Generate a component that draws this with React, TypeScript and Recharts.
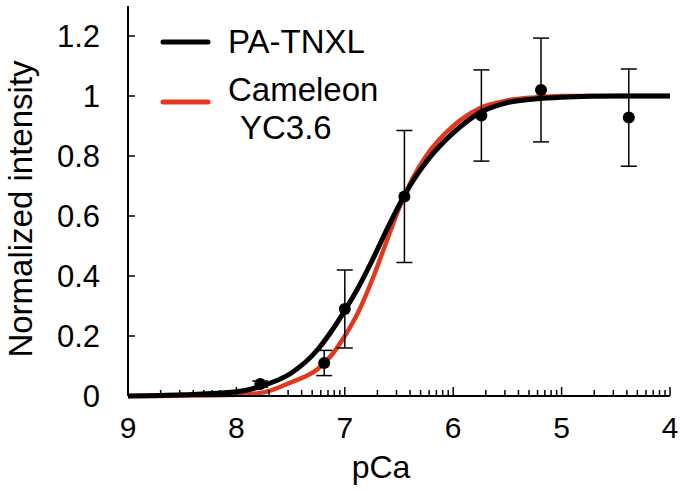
import { ComposedChart, Line, Scatter, ErrorBar, XAxis, YAxis, Legend, Label } from 'recharts'

// fitted curves
const curvePCa = [9, 8.5, 8, 7.75, 7.5, 7.25, 7.125, 7, 6.875, 6.75, 6.625, 6.5, 6.375, 6.25, 6, 5.75, 5.5, 5.25, 5, 4.5, 4]
const tnxlCurve = [0, 0.004, 0.014, 0.035, 0.075, 0.155, 0.215, 0.285, 0.362, 0.45, 0.545, 0.635, 0.715, 0.78, 0.877, 0.945, 0.978, 0.99, 0.996, 1, 1]
const yc36Curve = [0, 0.001, 0.004, 0.012, 0.045, 0.09, 0.135, 0.2, 0.28, 0.385, 0.505, 0.625, 0.725, 0.8, 0.9, 0.96, 0.985, 0.995, 1, 1, 1]

// measured points with error
const pointPCa = [7.78, 7.19, 7.0, 6.45, 5.74, 5.19, 4.38]
const pointValue = [0.04, 0.11, 0.29, 0.665, 0.935, 1.02, 0.928]
const pointErr = [0.01, 0.042, 0.13, 0.22, 0.152, 0.173, 0.162]

const yTicks = [0, 0.2, 0.4, 0.6, 0.8, 1, 1.2]
const majorX = [9, 8, 7, 6, 5, 4]
const minorX = majorX.slice(0, -1).flatMap(n => [2, 3, 4, 5, 6, 7, 8, 9].map(k => n - Math.log10(k)))

const tnxlData = curvePCa.map((p, i) => ({ pCa: p, v: tnxlCurve[i] }))
const yc36Data = curvePCa.map((p, i) => ({ pCa: p, v: yc36Curve[i] }))
const pointData = pointPCa.map((p, i) => ({ pCa: p, v: pointValue[i], err: pointErr[i] }))

const FONT = '"Liberation Sans", Arial, Helvetica, sans-serif'
const RED = '#e2381f'

const XTick = ({ x, y, payload }) => {
	const major = majorX.includes(payload.value)
	return <g>
		<line x1={x} x2={x} y1={y} y2={y - (major ? 9 : 6)} stroke='#000' strokeWidth={1.5} />
		{major && <text x={x} y={y + 42} textAnchor='middle' fontSize={30} fontFamily={FONT} fill='#000'>{payload.value}</text>}
	</g>
}

const YTick = ({ x, y, payload }) => {
	return <g>
		<line x1={x} x2={x + 7} y1={y} y2={y} stroke='#000' strokeWidth={1.5} />
		<text x={x - 28} y={y + 11} textAnchor='end' fontSize={31} fontFamily={FONT} fill='#000'>{payload.value}</text>
	</g>
}

const LegendBox = () => <svg width={420} height={150} style={{ display: 'block', overflow: 'visible' }}>
	<line x1={163} x2={208} y1={42} y2={42} stroke='#000' strokeWidth={5} strokeLinecap='round' />
	<text x={228} y={53} fontSize={33} fontFamily={FONT} fill='#000'>PA-TNXL</text>
	<line x1={163} x2={208} y1={102} y2={102} stroke={RED} strokeWidth={5} strokeLinecap='round' />
	<text x={228} y={101} fontSize={33} fontFamily={FONT} fill='#000'>Cameleon</text>
	<text x={240} y={139} fontSize={33} fontFamily={FONT} fill='#000'>YC3.6</text>
</svg>

export default function App() {
	return <div style={{ position: 'absolute', left: 0, top: 0 }}>
		<ComposedChart width={685} height={492} margin={{ top: 6, right: 15, bottom: 95, left: 127 }}>
			<XAxis dataKey='pCa' type='number' domain={[4, 9]} reversed allowDataOverflow
						 ticks={[...majorX, ...minorX]} interval={0} height={1}
						 tickSize={0} tickMargin={0} tick={<XTick />}
						 axisLine={{ stroke: '#000', strokeWidth: 2 }}>
				<Label value='pCa' position='bottom' offset={58} dx={-18} fontSize={32} fontFamily={FONT} fill='#000' />
			</XAxis>
			<YAxis type='number' domain={[0, 1.3]} ticks={yTicks} interval={0} width={1}
						 tickSize={0} tickMargin={0} tick={<YTick />}
						 axisLine={{ stroke: '#000', strokeWidth: 2 }}>
				<Label content={({ viewBox }) => {
					const cx = viewBox.x - 107
					const cy = viewBox.y + viewBox.height / 2 + 8
					return <text x={cx} y={cy} transform={`rotate(-90 ${cx} ${cy})`} textAnchor='middle'
											 dominantBaseline='central' fontSize={33} fontFamily={FONT} fill='#000'>Normalized intensity</text>
				}} />
			</YAxis>
			<Legend layout='vertical' align='center' verticalAlign='middle' content={<LegendBox />}
							wrapperStyle={{ left: 0, top: 0, width: 420 }} />
			<Line data={yc36Data} dataKey='v' type='monotone' stroke={RED} strokeWidth={4.5} dot={false} isAnimationActive={false} name='Cameleon YC3.6' />
			<Line data={tnxlData} dataKey='v' type='monotone' stroke='#000' strokeWidth={5} dot={false} isAnimationActive={false} name='PA-TNXL' />
			<Scatter data={pointData} dataKey='v' isAnimationActive={false}
							 shape={(p) => <circle cx={p.cx} cy={p.cy} r={6} fill='#000' />}>
				<ErrorBar dataKey='err' direction='y' width={8} stroke='#000' strokeWidth={1.5} />
			</Scatter>
		</ComposedChart>
	</div>
}
